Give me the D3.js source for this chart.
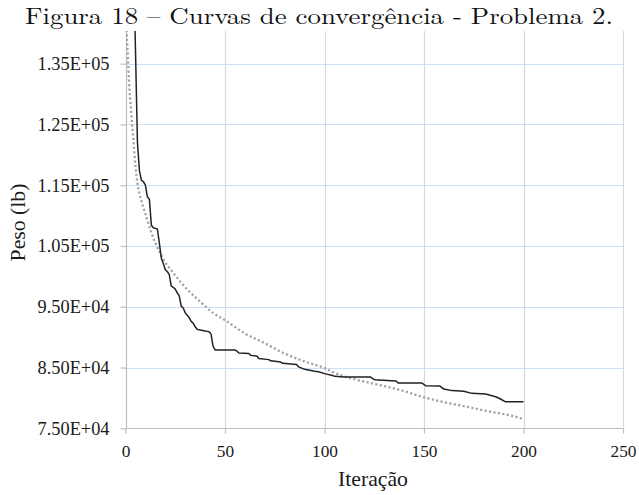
<!DOCTYPE html>
<html>
<head>
<meta charset="utf-8">
<script src="https://cdn.jsdelivr.net/npm/d3@7"></script>
<style>
  html, body { margin: 0; padding: 0; background: #fff; }
  svg { display: block; }
</style>
</head>
<body>
<svg id="chart" width="639" height="495"></svg>
<script>
// Convergence curves: best weight per iteration (solid) and the reference curve (dotted)
const titleText = "Figura 18 – Curvas de convergência - Problema 2.";
const xLabel = "Iteração";
const yLabel = "Peso (lb)";

const xTicks = [0, 50, 100, 150, 200, 250];
const yTicks = [75000, 85000, 95000, 105000, 115000, 125000, 135000];
const yTickLabels = ["7.50E+04", "8.50E+04", "9.50E+04", "1.05E+05", "1.15E+05", "1.25E+05", "1.35E+05"];

// solid curve (stepped best-so-far)
const solidIter = [1, 2, 3, 4, 5, 6, 7, 8, 9, 10, 11, 12, 13, 14, 15, 16, 17, 18, 19, 20,
  21, 22, 23, 24, 25, 26, 27, 28, 29, 30, 31, 32, 33, 34, 35, 36, 37, 38, 39, 40,
  41, 42, 43, 44, 45, 55, 56, 57, 62, 63, 66, 67, 72, 73, 78, 79, 86, 87, 90, 95,
  97, 100, 104, 105, 110, 123, 125, 136, 137, 149, 151, 158, 160, 164, 170, 174, 181, 186, 188, 191, 200];
const solidVal = [230000, 200000, 175000, 152500, 137500, 122000, 117400, 115800, 115600, 115000,
  113100, 112700, 108400, 108000, 107900, 107800, 105500, 103000, 102100, 101100,
  100800, 100300, 98400, 98200, 97900, 97300, 96800, 95100, 94800, 94000,
  93600, 93200, 92600, 92300, 91700, 91300, 91200, 91150, 91100, 91000,
  90950, 90900, 90500, 88500, 87900, 87900, 87700, 87400, 87300, 87000,
  86900, 86500, 86300, 86100, 85900, 85700, 85500, 85100, 84700, 84400,
  84300, 84000, 83700, 83550, 83450, 83450, 83000, 82800, 82450, 82450,
  82000, 81950, 81450, 81200, 81100, 80750, 80650, 80200, 79900, 79350, 79350];

// dotted curve (smooth decay)
const dotIter = [0, 1, 2, 3, 4, 5, 6, 7, 8, 9, 10, 13, 17, 20, 23, 30, 37, 44, 50, 60,
  70, 80, 90, 100, 106, 116, 128, 138, 150, 160, 170, 183, 195, 200];
const dotVal = [143500, 137500, 130800, 126500, 122300, 118200, 115300, 113600, 112400, 111300,
  110300, 107200, 104100, 102300, 101000, 98200, 96000, 94000, 92800, 90600,
  89000, 87300, 86000, 84900, 84000, 83000, 82100, 81300, 80100, 79300,
  78650, 77750, 77000, 76500];

const axisFont = '"Liberation Serif", "Times New Roman", "DejaVu Serif"';
const captionFont = '"Latin Modern Roman", "Liberation Serif", "DejaVu Serif"';

const svg = d3.select("#chart");
const W = 639, H = 495;
const plot = { left: 125.5, right: 623, top: 31, bottom: 428.3 };

const x = d3.scaleLinear().domain([0, 250]).range([plot.left, plot.right]);
// axis runs to 1.45E+05; its upper part is cut off by the caption band
const y = d3.scaleLinear().domain([75000, 145000]).range([plot.bottom, plot.bottom - 7 * 60.77]);

// set a font on a text selection, then rescale it so its widest item spans `width` px
function fitText(sel, family, baseSize, width) {
  sel.attr("font-family", family).attr("font-size", baseSize)
    .style("font-family", family).style("font-size", baseSize + "px");
  let widest = 0;
  sel.each(function () { widest = Math.max(widest, this.getComputedTextLength()); });
  const size = widest > 0 ? baseSize * width / widest : baseSize;
  sel.attr("font-size", size).style("font-size", size + "px");
  return size;
}

svg.append("rect").attr("width", W).attr("height", H).attr("fill", "#fff");

svg.append("defs").append("clipPath").attr("id", "plotClip")
  .append("rect")
  .attr("x", plot.left).attr("y", plot.top)
  .attr("width", plot.right - plot.left + 1).attr("height", plot.bottom - plot.top + 1);

// horizontal gridlines
svg.append("g").selectAll("line").data(yTicks.slice(1)).join("line")
  .attr("x1", plot.left).attr("x2", plot.right)
  .attr("y1", d => Math.round(y(d)) + 0.5).attr("y2", d => Math.round(y(d)) + 0.5)
  .attr("stroke", "#cfe0f1").attr("stroke-width", 1.2);

// vertical gridlines
svg.append("g").selectAll("line").data(xTicks.slice(1)).join("line")
  .attr("x1", d => Math.round(x(d)) + 0.5).attr("x2", d => Math.round(x(d)) + 0.5)
  .attr("y1", plot.top).attr("y2", plot.bottom)
  .attr("stroke", "#d9d9d9").attr("stroke-width", 1.2);

// y axis
const yAxis = d3.axisLeft(y).tickValues(yTicks)
  .tickFormat((d, i) => yTickLabels[i]).tickSize(6).tickPadding(11);
const gy = svg.append("g").attr("transform", `translate(${Math.round(plot.left) + 0.5},0)`).call(yAxis)
  .attr("font-family", axisFont).attr("font-size", 17);
gy.select(".domain").attr("d", `M0,${plot.top}V${plot.bottom}`).attr("stroke", "#bfbfbf").attr("stroke-width", 1.2);
gy.selectAll(".tick line").attr("stroke", "#bfbfbf").attr("stroke-width", 1.2);
const yText = gy.selectAll(".tick text").attr("fill", "#1a1a1a");
fitText(yText, axisFont, 17, 72);

// x axis
const xAxis = d3.axisBottom(x).tickValues(xTicks).tickSize(5).tickPadding(11.5);
const gx = svg.append("g").attr("transform", `translate(0,${Math.round(plot.bottom) + 0.5})`).call(xAxis)
  .attr("font-family", axisFont).attr("font-size", 17);
gx.select(".domain").attr("d", `M${plot.left},0H${plot.right}`).attr("stroke", "#bfbfbf").attr("stroke-width", 1.2);
gx.selectAll(".tick line").attr("stroke", "#bfbfbf").attr("stroke-width", 1.2);
const xText = gx.selectAll(".tick text").attr("fill", "#1a1a1a");
fitText(xText, axisFont, 17, 26);

// curves
const series = svg.append("g").attr("clip-path", "url(#plotClip)");

series.append("path")
  .datum(dotIter.map((t, i) => [t, dotVal[i]]))
  .attr("d", d3.line().x(d => x(d[0])).y(d => y(d[1])).curve(d3.curveMonotoneX))
  .attr("fill", "none")
  .attr("stroke", "#a3a3a3")
  .attr("stroke-width", 2.3)
  .attr("stroke-dasharray", "2.2 2.3");

series.append("path")
  .datum(solidIter.map((t, i) => [t, solidVal[i]]))
  .attr("d", d3.line().x(d => x(d[0])).y(d => y(d[1])))
  .attr("fill", "none")
  .attr("stroke", "#222")
  .attr("stroke-width", 1.5)
  .attr("stroke-linejoin", "round");

// axis titles
const xTitle = svg.append("text")
  .attr("x", 373).attr("y", 486)
  .attr("text-anchor", "middle")
  .attr("fill", "#1a1a1a")
  .text(xLabel);
fitText(xTitle, axisFont, 21, 70);

const yTitle = svg.append("text")
  .attr("transform", "translate(25,222.5) rotate(-90)")
  .attr("text-anchor", "middle")
  .attr("fill", "#1a1a1a")
  .text(yLabel);
fitText(yTitle, axisFont, 21, 78);

// caption across the top of the figure
svg.append("text")
  .attr("x", 25).attr("y", 23.5)
  .attr("fill", "#111")
  .attr("font-family", captionFont).attr("font-size", 23.5)
  .style("font-family", captionFont).style("font-size", "23.5px")
  .attr("textLength", 588)
  .attr("lengthAdjust", "spacingAndGlyphs")
  .text(titleText);
</script>
</body>
</html>
